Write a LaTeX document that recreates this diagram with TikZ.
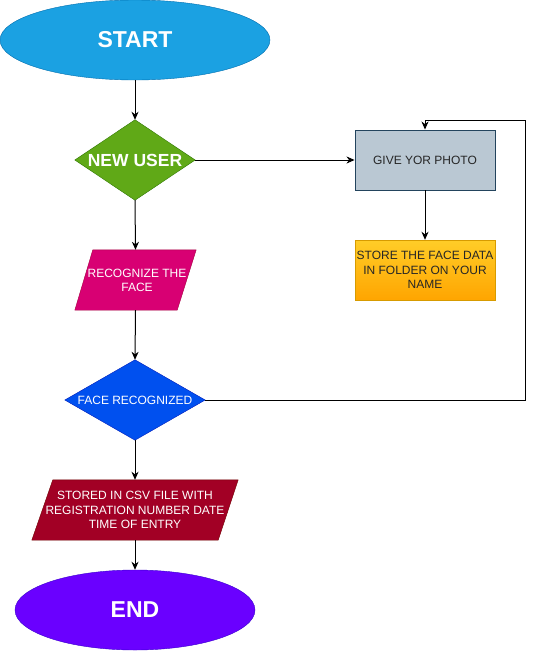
\documentclass[tikz,border=0pt]{standalone}
\usepackage{fontspec}
\setmainfont{Liberation Sans}
\usetikzlibrary{shapes.geometric,arrows.meta}
\definecolor{startfill}{HTML}{1BA1E2}\definecolor{startdraw}{HTML}{006EAF}
\definecolor{newfill}{HTML}{60A917}\definecolor{newdraw}{HTML}{2D7600}
\definecolor{givefill}{HTML}{BAC8D3}\definecolor{givedraw}{HTML}{23445D}
\definecolor{storetop}{HTML}{FFCD28}\definecolor{storebot}{HTML}{FFA500}\definecolor{storedraw}{HTML}{D79B00}
\definecolor{recfill}{HTML}{D80073}\definecolor{recdraw}{HTML}{A50040}
\definecolor{frfill}{HTML}{0050EF}\definecolor{frdraw}{HTML}{001DBC}
\definecolor{csvfill}{HTML}{A20025}\definecolor{csvdraw}{HTML}{6F0000}
\definecolor{endfill}{HTML}{6A00FF}\definecolor{enddraw}{HTML}{3700CC}
\begin{document}
\begin{tikzpicture}[x=1pt,y=-1pt,
  term/.style={ellipse,inner sep=0pt,minimum width=#1,minimum height=80pt,text=white,font=\fontsize{23}{27}\selectfont\bfseries},
  box/.style={rectangle,inner sep=0pt,minimum width=140pt,minimum height=60pt,align=center,font=\fontsize{12}{14.2}\selectfont},
  frame/.style={rectangle,inner sep=0pt,align=center,font=\fontsize{12}{14.2}\selectfont},
  conn/.style={draw=black,line width=1pt,-{Stealth[length=8pt,width=7pt,inset=2.5pt]}},
  plain/.style={draw=black,line width=1pt}]
\useasboundingbox (0,0) rectangle (534,651);
% START
\node[term=270pt,fill=startfill,draw=startdraw] (start) at (135,40) {START};
% NEW USER diamond
\node[frame,minimum width=120pt,minimum height=80pt,text=white,font=\fontsize{17.5}{21}\selectfont\bfseries] (new) at (135,160) {};
\path[fill=newfill,draw=newdraw] (new.north) -- (new.east) -- (new.south) -- (new.west) -- cycle;
\node[text=white,font=\fontsize{17.5}{21}\selectfont\bfseries] at (new.center) {NEW USER};
% GIVE YOR PHOTO
\node[box,fill=givefill,draw=givedraw,line width=0.9pt,text=black!85] (give) at (425,160) {GIVE YOR PHOTO};
% STORE
\node[box,top color=storetop,bottom color=storebot,draw=storedraw,text=black!85] (store) at (425,270) {STORE THE FACE DATA\\IN FOLDER ON YOUR\\NAME};
% RECOGNIZE parallelogram
\node[frame,minimum width=121pt,minimum height=60pt] (rec) at (135.5,280) {};
\path[fill=recfill,draw=recdraw] (rec.south west) -- ([xshift=-19pt]rec.south east) -- (rec.north east) -- ([xshift=18pt]rec.north west) -- cycle;
\node[frame,text=white] at (137,280) {RECOGNIZE THE\\FACE};
% FACE RECOGNIZED diamond
\node[frame,minimum width=140pt,minimum height=80pt] (fr) at (135,400) {};
\path[fill=frfill,draw=frdraw] (fr.north) -- (fr.east) -- (fr.south) -- (fr.west) -- cycle;
\node[frame,text=white] at (fr.center) {FACE RECOGNIZED};
% STORED parallelogram
\node[frame,minimum width=206pt,minimum height=60pt] (csv) at (135,510) {};
\path[fill=csvfill,draw=csvdraw] (csv.south west) -- ([xshift=-20pt]csv.south east) -- (csv.north east) -- ([xshift=21pt]csv.north west) -- cycle;
\node[frame,text=white] at (135,510) {STORED IN CSV FILE WITH\\REGISTRATION NUMBER DATE\\TIME OF ENTRY};
% END
\node[term=240pt,fill=endfill,draw=enddraw] (end) at (135,610) {END};
% connectors
\draw[conn] (start.south) -- (new.north);
\draw[conn] (new.east) -- (give.west);
\draw[conn] (give.south) -- (store.north);
\draw[conn] (new.south) -- (rec.north);
\draw[conn] (rec.south) -- (fr.north);
\draw[conn] (fr.south) -- (csv.north);
\draw[conn] (csv.south) -- (end.north);
\coordinate (loopc) at (525,120);
\draw[conn] (fr.east) -| (loopc) -| (give.north);
\end{tikzpicture}
\end{document}
